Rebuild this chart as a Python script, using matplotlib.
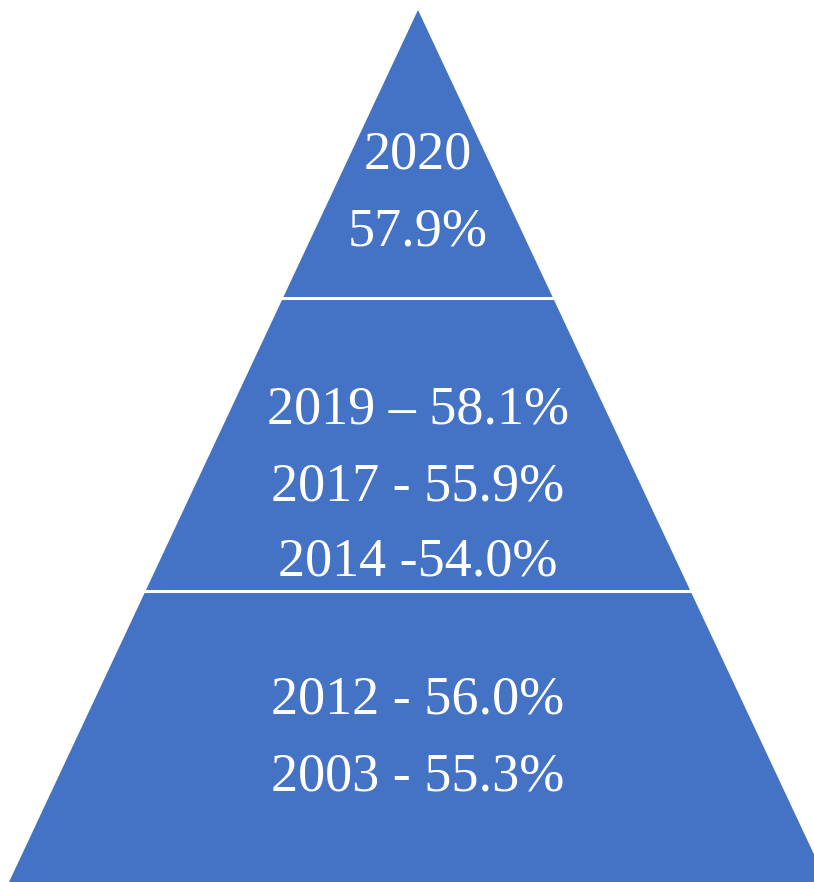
import numpy as np
import matplotlib.pyplot as plt
from matplotlib.patches import Polygon

# testo di ogni fascia della piramide, dall'alto verso il basso
band_top = ["2020", "57.9%"]
band_mid = ["2019 \u2013 58.1%", "2017 - 55.9%", "2014 -54.0%"]
band_low = ["2012 - 56.0%", "2003 - 55.3%"]
bands = [band_top, band_mid, band_low]

# geometria (pixel dell'immagine)
W, H = 814, 882
apex = (418, 10)
half_slope = 0.469           # mezza larghezza per pixel di altezza
cuts = [10, 298, 591, 882]   # y dei bordi delle fasce
text_y = [[155, 232], [410, 487, 562], [700, 777]]
blue = "#4472C4"

plt.rcParams['font.family'] = ['Liberation Serif', 'DejaVu Serif']

fig = plt.figure(figsize=(W / 100, H / 100), dpi=100)
ax = fig.add_axes([0, 0, 1, 1])
ax.set_xlim(0, W)
ax.set_ylim(H, 0)
ax.axis("off")


def half_w(y):
    return (y - apex[1]) * half_slope


for i in range(3):
    y0, y1 = cuts[i], cuts[i + 1]
    pts = [(apex[0] - half_w(y0), y0), (apex[0] + half_w(y0), y0),
           (apex[0] + half_w(y1), y1), (apex[0] - half_w(y1), y1)]
    ax.add_patch(Polygon(pts, closed=True, facecolor=blue, edgecolor="none"))

# linee bianche di separazione
for y in cuts[1:3]:
    ax.plot([apex[0] - half_w(y) - 3, apex[0] + half_w(y) + 3], [y, y],
            color="white", lw=2.2, solid_capstyle="butt")

for labels, ys in zip(bands, text_y):
    for lab, y in zip(labels, ys):
        ax.text(apex[0], y, lab, color="white", fontsize=39,
                ha="center", va="center")

fig.savefig("out.png", dpi=100)
